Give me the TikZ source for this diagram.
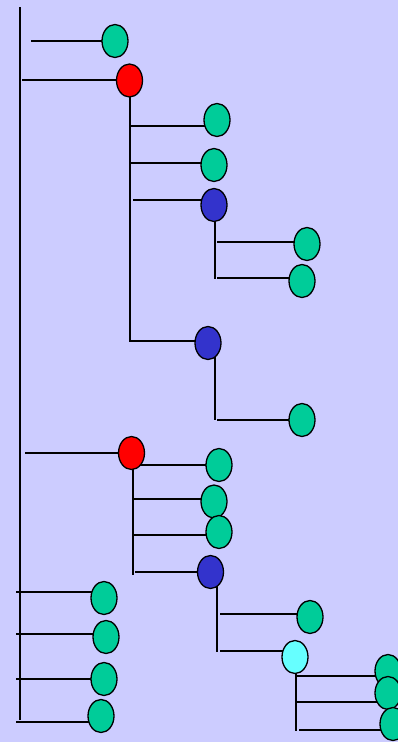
\documentclass[tikz,border=0pt]{standalone}
\usetikzlibrary{shapes.geometric}
\definecolor{backColor}{RGB}{204,204,255}
\definecolor{leafColor}{RGB}{0,204,153}
\definecolor{redColor}{RGB}{255,0,0}
\definecolor{blueColor}{RGB}{51,51,204}
\definecolor{cyanColor}{RGB}{102,255,255}
\pgfdeclarelayer{back}
\pgfdeclarelayer{wires}
\pgfsetlayers{back,wires,main}

\begin{document}
\begin{tikzpicture}[x=1pt,y=-1pt]

          \tikzstyle{baseNode} = [ellipse, draw=black, line width=1.3pt, minimum width=26pt, minimum height=33pt, inner sep=0pt];
          \tikzstyle{leafNode} = [baseNode, fill=leafColor];
          \tikzstyle{redNode} = [baseNode, fill=redColor];
          \tikzstyle{blueNode} = [baseNode, fill=blueColor];
          \tikzstyle{cyanNode} = [baseNode, fill=cyanColor];

          \tikzstyle{wire} = [line width=2pt, black];

          \useasboundingbox (0,0) rectangle (398,742);
          \begin{pgfonlayer}{back}
            \fill[backColor] (0,0) rectangle (398,742);
          \end{pgfonlayer}

          % nodes
          \node[leafNode] (l1) at (115,41) {};
          \node[redNode] (r1) at (129.5,80.5) {};
          \node[leafNode] (l2) at (217,120) {};
          \node[leafNode] (l3) at (214,165) {};
          \node[blueNode] (b1) at (214,205) {};
          \node[leafNode] (l4) at (307,244) {};
          \node[leafNode] (l5) at (302,281) {};
          \node[blueNode] (b2) at (208,343) {};
          \node[leafNode] (l6) at (302,420) {};
          \node[redNode] (r2) at (131.5,453) {};
          \node[leafNode] (l7) at (219,465) {};
          \node[leafNode] (l8) at (214,501.5) {};
          \node[leafNode] (l9) at (219,532) {};
          \node[blueNode] (b3) at (210.5,572) {};
          \node[leafNode] (l10) at (310,617) {};
          \node[cyanNode] (c1) at (295,657) {};
          \node[leafNode] (l11) at (388,671) {};
          \node[leafNode] (l12) at (388,693) {};
          \node[leafNode] (l13) at (393,724) {};
          \node[leafNode] (l14) at (104,598) {};
          \node[leafNode] (l15) at (106,637) {};
          \node[leafNode] (l16) at (104,679) {};
          \node[leafNode] (l17) at (101,716) {};

          % free ends
          \coordinate (rootTop) at (20,7);
          \coordinate (rootFoot) at (20,720);
          \coordinate (r1Foot) at (130,342);
          \coordinate (b1Foot) at (215,279);
          \coordinate (b2Foot) at (215,420);
          \coordinate (r2Foot) at (133,575);
          \coordinate (b3Foot) at (217,652);
          \coordinate (c1Foot) at (296,731);

          \coordinate (sl1) at (31,41);
          \coordinate (sr1) at (22,80);
          \coordinate (sl2) at (130,126);
          \coordinate (sl3) at (130,163);
          \coordinate (sb1) at (133,200);
          \coordinate (sl4) at (217,242);
          \coordinate (sl5) at (217,278);
          \coordinate (sb2) at (130,341);
          \coordinate (sl6) at (217,420);
          \coordinate (sr2) at (25,453);
          \coordinate (sl7) at (133,465);
          \coordinate (sl8) at (133,499);
          \coordinate (sl9) at (133,535);
          \coordinate (sb3) at (135,572);
          \coordinate (sl10) at (220,614);
          \coordinate (sc1) at (220,651);
          \coordinate (sl11) at (297,676);
          \coordinate (sl12) at (297,702);
          \coordinate (sl13) at (299,730);
          \coordinate (sl14) at (16,592);
          \coordinate (sl15) at (16,634);
          \coordinate (sl16) at (16,679);
          \coordinate (sl17) at (16,722);

          \begin{pgfonlayer}{wires}
          \draw[wire] (rootTop) -- (rootFoot);
          \draw[wire] (sl1) -- (sl1 -| l1);
          \draw[wire] (sr1) -- (sr1 -| r1);
          \draw[wire] (r1Foot |- r1) -- (r1Foot);
          \draw[wire] (sl2) -- (sl2 -| l2);
          \draw[wire] (sl3) -- (sl3 -| l3);
          \draw[wire] (sb1) -- (sb1 -| b1);
          \draw[wire] (b1Foot |- b1) -- (b1Foot);
          \draw[wire] (sl4) -- (sl4 -| l4);
          \draw[wire] (sl5) -- (sl5 -| l5);
          \draw[wire] (sb2) -- (sb2 -| b2);
          \draw[wire] (b2Foot |- b2) -- (b2Foot);
          \draw[wire] (sl6) -- (sl6 -| l6);
          \draw[wire] (sr2) -- (sr2 -| r2);
          \draw[wire] (r2Foot |- r2) -- (r2Foot);
          \draw[wire] (sl7) -- (sl7 -| l7);
          \draw[wire] (sl8) -- (sl8 -| l8);
          \draw[wire] (sl9) -- (sl9 -| l9);
          \draw[wire] (sb3) -- (sb3 -| b3);
          \draw[wire] (b3Foot |- b3) -- (b3Foot);
          \draw[wire] (sl10) -- (sl10 -| l10);
          \draw[wire] (sc1) -- (sc1 -| c1);
          \draw[wire] (c1Foot |- c1) -- (c1Foot);
          \draw[wire] (sl11) -- (sl11 -| l11);
          \draw[wire] (sl12) -- (sl12 -| l12);
          \draw[wire] (sl13) -- (sl13 -| l13);
          \draw[wire] (sl14) -- (sl14 -| l14);
          \draw[wire] (sl15) -- (sl15 -| l15);
          \draw[wire] (sl16) -- (sl16 -| l16);
          \draw[wire] (sl17) -- (sl17 -| l17);
          \end{pgfonlayer}
        \end{tikzpicture}
\end{document}
